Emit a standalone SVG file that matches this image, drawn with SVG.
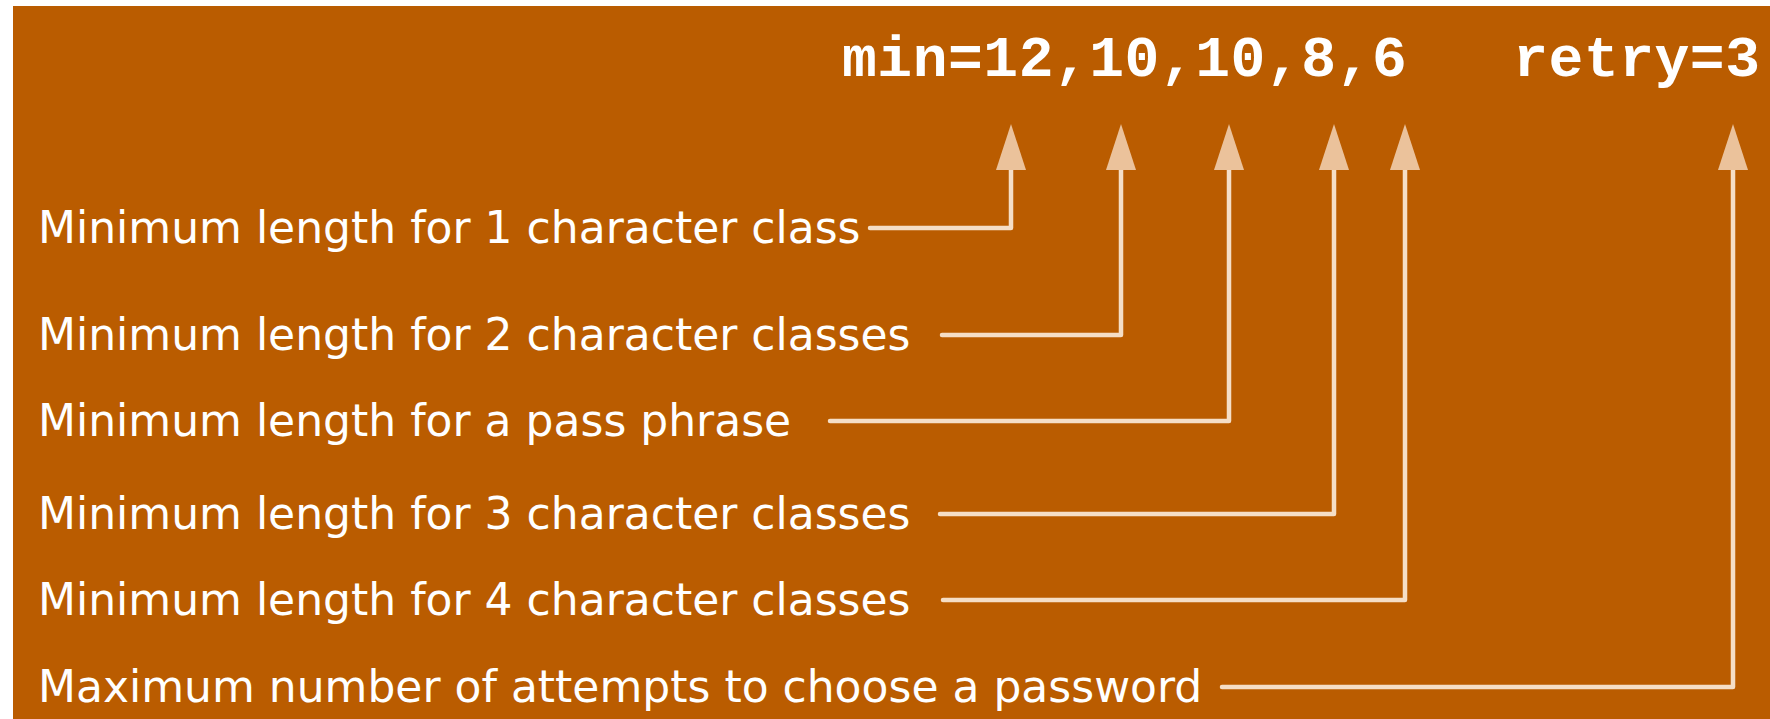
<svg xmlns="http://www.w3.org/2000/svg" width="1770" height="719" viewBox="0 0 1770 719">
  <style>
    .lbl { font-family: "DejaVu Sans", Verdana, sans-serif; font-size: 44px; fill: #ffffff; }
    .code { font-family: "Liberation Mono", "Courier New", monospace; font-weight: bold; font-size: 58px; fill: #ffffff; }
    .conn { fill: none; stroke: #F5DEC6; stroke-width: 4.5; stroke-linejoin: round; stroke-linecap: round; }
  </style>
  <defs>
    <marker id="arrow" markerUnits="userSpaceOnUse" viewBox="0 0 46 30" refX="0" refY="15" markerWidth="46" markerHeight="30" orient="auto">
      <path d="M0,0 L46,15 L0,30 z" fill="#EBC29B"/>
    </marker>
  </defs>
  <rect x="0" y="0" width="1770" height="719" fill="#ffffff"/>
  <rect x="13" y="6" width="1757" height="713" fill="#BA5C00"/>

  <g id="header">
    <text class="code" x="842" y="76" xml:space="preserve" textLength="918" lengthAdjust="spacing">min=12,10,10,8,6   retry=3</text>
  </g>

  <g id="label1"><text class="lbl" x="38" y="243">Minimum length for 1 character class</text></g>
  <g id="label2"><text class="lbl" x="38" y="350">Minimum length for 2 character classes</text></g>
  <g id="label3"><text class="lbl" x="38" y="436">Minimum length for a pass phrase</text></g>
  <g id="label4"><text class="lbl" x="38" y="529">Minimum length for 3 character classes</text></g>
  <g id="label5"><text class="lbl" x="38" y="615">Minimum length for 4 character classes</text></g>
  <g id="label6"><text class="lbl" x="38" y="702">Maximum number of attempts to choose a password</text></g>

  <g id="connectors">
    <path class="conn" d="M870,228 H1011 V170" marker-end="url(#arrow)"/>
    <path class="conn" d="M942,335 H1121 V170" marker-end="url(#arrow)"/>
    <path class="conn" d="M830,421 H1229 V170" marker-end="url(#arrow)"/>
    <path class="conn" d="M940,514 H1334 V170" marker-end="url(#arrow)"/>
    <path class="conn" d="M943,600 H1405 V170" marker-end="url(#arrow)"/>
    <path class="conn" d="M1222,687 H1733 V170" marker-end="url(#arrow)"/>
  </g>
</svg>
